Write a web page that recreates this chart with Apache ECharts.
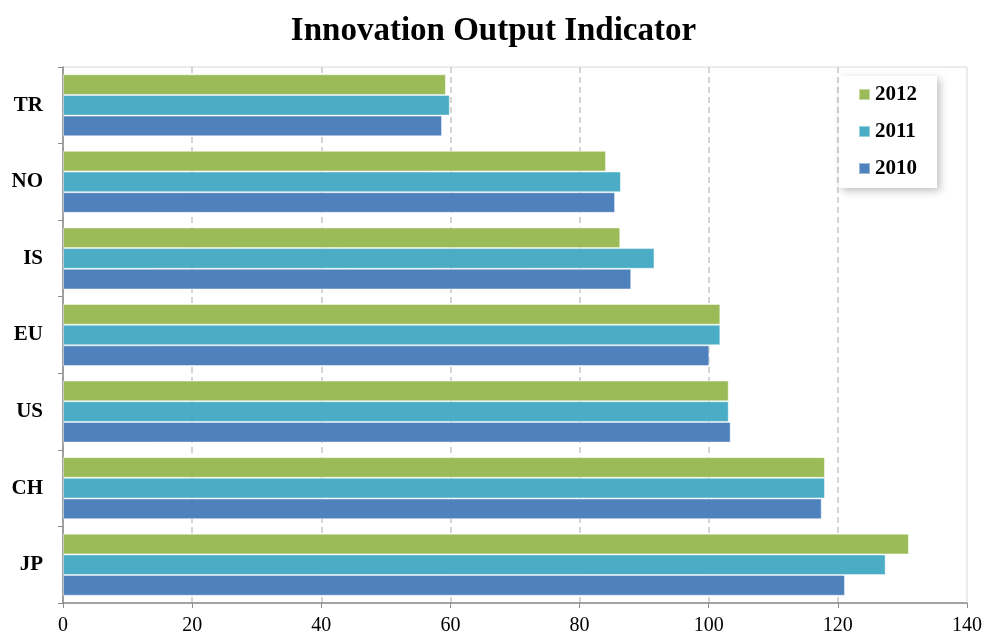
<!DOCTYPE html>
<html>
<head>
<meta charset="utf-8">
<script src="https://cdn.jsdelivr.net/npm/echarts@6/dist/echarts.min.js"></script>
<style>
	html, body { margin: 0; padding: 0; background: #fff; }
	#main { width: 987px; height: 641px; }
</style>
</head>
<body>
<div id="main"></div>
<script>
// 数据 (从下到上)
const categories = ['JP', 'CH', 'US', 'EU', 'IS', 'NO', 'TR']
const data2010 = [121.1, 117.5, 103.4, 100.1, 88.0, 85.5, 58.7]
const data2011 = [127.4, 118.0, 103.1, 101.8, 91.6, 86.4, 59.9]
const data2012 = [131.0, 118.0, 103.1, 101.8, 86.3, 84.1, 59.3]
const xTicks = [0, 20, 40, 60, 80, 100, 120, 140]

const font = '"Liberation Serif", "Times New Roman", serif'

const barSeries = (name, data, color) => ({
	name: name,
	type: 'bar',
	data: data,
	barGap: '0%',
	barCategoryGap: '19%',
	itemStyle: {
		color: color,
		borderColor: 'rgba(255,255,255,0.45)',
		borderWidth: 1
	}
})

let option = {
	animation: false,
	title: {
		text: 'Innovation Output Indicator',
		left: 'center',
		top: 10,
		textStyle: { fontFamily: font, fontSize: 33, fontWeight: 'bold', color: '#000' }
	},
	legend: {
		data: ['2012', '2011', '2010'],
		orient: 'vertical',
		right: 50,
		top: 76,
		padding: [8, 20, 9, 19],
		itemGap: 16,
		itemWidth: 11,
		itemHeight: 11,
		icon: 'rect',
		backgroundColor: '#fff',
		shadowBlur: 8,
		shadowColor: 'rgba(0,0,0,0.25)',
		shadowOffsetX: 3,
		shadowOffsetY: 3,
		textStyle: { fontFamily: font, fontSize: 21, fontWeight: 'bold', color: '#000' }
	},
	grid: {
		left: 63,
		right: 20,
		top: 67,
		bottom: 38,
		show: true,
		borderColor: '#d9d9d9',
		borderWidth: 1
	},
	xAxis: {
		type: 'value',
		min: xTicks[0],
		max: xTicks[xTicks.length - 1],
		interval: 20,
		axisLine: { show: true, lineStyle: { color: '#8c8c8c', width: 1.5 } },
		axisTick: { show: true, length: 5, lineStyle: { color: '#8c8c8c' } },
		splitLine: { show: true, showMaxLine: false, lineStyle: { color: '#c8c8c8', type: [6, 4], width: 1.5 } },
		axisLabel: { fontFamily: font, fontSize: 20, color: '#000', margin: 13 }
	},
	yAxis: {
		type: 'category',
		data: categories,
		axisLine: { show: true, lineStyle: { color: '#8c8c8c', width: 1.5 } },
		axisTick: { show: true, length: 5, lineStyle: { color: '#8c8c8c' } },
		axisLabel: { fontFamily: font, fontSize: 21, fontWeight: 'bold', color: '#000', margin: 20 }
	},
	// v6 里水平柱第一个系列在上面，所以 2012 放第一个
	series: [
		barSeries('2012', data2012, '#9BBB59'),
		barSeries('2011', data2011, '#4BACC6'),
		barSeries('2010', data2010, '#4F81BD')
	]
}

let myChart = echarts.init(document.getElementById('main'))
myChart.setOption(option)
</script>
</body>
</html>
